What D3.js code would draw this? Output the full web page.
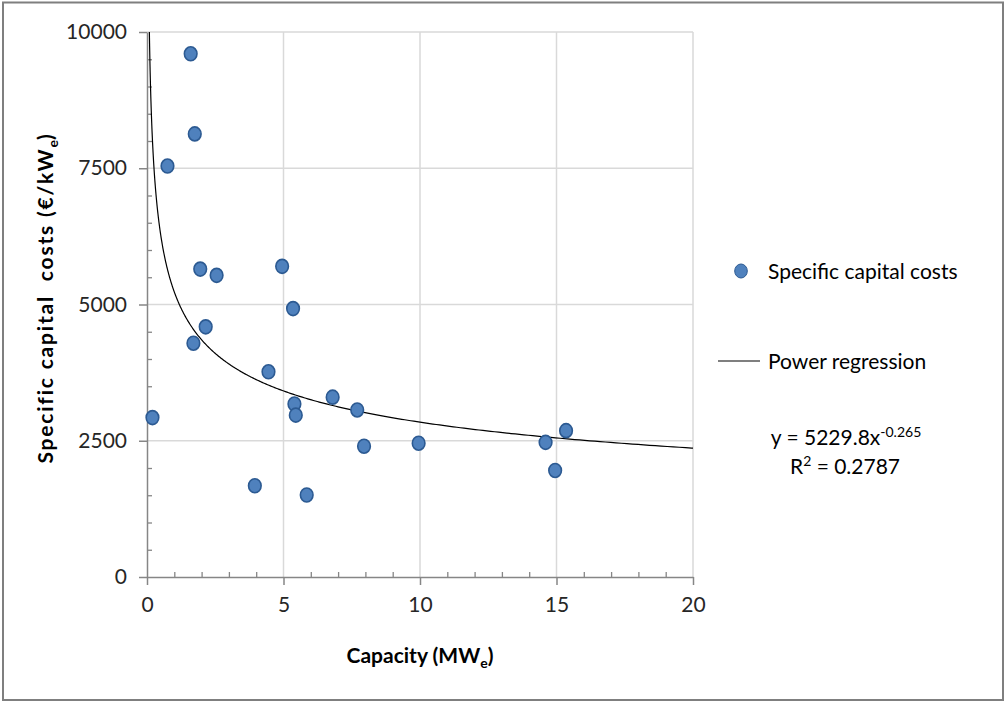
<!DOCTYPE html>
<html>
<head>
<meta charset="utf-8">
<script src="https://cdn.jsdelivr.net/npm/d3@7"></script>
<style>
  html, body { margin: 0; padding: 0; background: #fff; }
  svg { display: block; font-family: Lato, "Open Sans", sans-serif; }
</style>
</head>
<body>
<svg id="chart" width="1006" height="702"></svg>
<script>
// Plant capacity (MWe) and specific capital cost (€/kWe)
const capacity = [1.6, 1.75, 0.75, 1.95, 2.55, 4.95, 5.35, 2.15, 1.7, 4.45, 0.2,
                  5.4, 5.45, 6.8, 7.7, 7.95, 9.95, 3.95, 5.85, 14.6, 15.35, 14.95];
const cost = [9600, 8130, 7540, 5650, 5535, 5700, 4925, 4590, 4290, 3765, 2925,
              3175, 2970, 3300, 3065, 2400, 2455, 1675, 1505, 2470, 2685, 1955];

// Axis ticks
const xTicks = [0, 5, 10, 15, 20];
const yTicks = [0, 2500, 5000, 7500, 10000];

// Power regression y = a * x^b
const regA = 5229.8;
const regB = -0.265;
const rSquared = 0.2787;

const svg = d3.select("#chart");

// outer frame
svg.append("rect")
  .attr("x", 3).attr("y", 2.5).attr("width", 1000).attr("height", 697.5)
  .attr("fill", "#fff").attr("stroke", "#7f7f7f").attr("stroke-width", 2);

const x = d3.scaleLinear().domain([0, 20]).range([147, 693]);
const y = d3.scaleLinear().domain([0, 10000]).range([577, 32]);

const gridColor = "#d9d9d9";
const axisColor = "#868686";

// gridlines
svg.append("g").selectAll("line").data(xTicks.filter(d => d > 0)).join("line")
  .attr("x1", d => x(d)).attr("x2", d => x(d))
  .attr("y1", y(0)).attr("y2", y(10000))
  .attr("stroke", gridColor).attr("stroke-width", 1.5);
svg.append("g").selectAll("line").data(yTicks.filter(d => d > 0)).join("line")
  .attr("x1", x(0)).attr("x2", x(20))
  .attr("y1", d => y(d)).attr("y2", d => y(d))
  .attr("stroke", gridColor).attr("stroke-width", 1.5);

// minor ticks (inside)
const xMinor = d3.range(1, 21).filter(d => d % 5 !== 0);
const yMinor = d3.range(500, 10001, 500).filter(d => d % 2500 !== 0);
const xAxisMinor = d3.axisBottom(x).tickValues(xMinor).tickSize(-5).tickFormat("");
const yAxisMinor = d3.axisLeft(y).tickValues(yMinor).tickSize(-5).tickFormat("");

const gxm = svg.append("g").attr("transform", `translate(0,${y(0)})`).call(xAxisMinor);
const gym = svg.append("g").attr("transform", `translate(${x(0)},0)`).call(yAxisMinor);
[gxm, gym].forEach(g => {
  g.select(".domain").remove();
  g.selectAll("line").attr("stroke", axisColor).attr("stroke-width", 1.3);
});

// major axes
const xAxis = d3.axisBottom(x).tickValues(xTicks).tickSize(8).tickSizeOuter(0).tickPadding(12).tickFormat(d3.format("d"));
const yAxis = d3.axisLeft(y).tickValues(yTicks).tickSize(8).tickSizeOuter(0).tickPadding(12).tickFormat(d3.format("d"));

const gx = svg.append("g").attr("transform", `translate(0,${y(0)})`).call(xAxis);
const gy = svg.append("g").attr("transform", `translate(${x(0)},0)`).call(yAxis);
[gx, gy].forEach(g => {
  g.select(".domain").attr("stroke", axisColor).attr("stroke-width", 1.5);
  g.selectAll(".tick line").attr("stroke", axisColor).attr("stroke-width", 1.5);
  g.selectAll(".tick text").attr("fill", "#262626")
    .style("font-family", "Lato, sans-serif").style("font-size", "21px");
});
gx.selectAll(".tick text").attr("dy", "0.71em");

// regression curve
const regX = d3.range(-1.1, Math.log10(20) + 1e-9, 0.005).map(e => Math.pow(10, e))
  .filter(v => regA * Math.pow(v, regB) <= 10000);
regX.unshift(Math.pow(regA / 10000, 1 / -regB));
regX.push(20);
svg.append("path")
  .datum(regX)
  .attr("fill", "none").attr("stroke", "#000").attr("stroke-width", 1.2)
  .attr("d", d3.line().x(d => x(d)).y(d => y(regA * Math.pow(d, regB))));

// data points
const ptFill = "#4f81bd";
const ptStroke = "#2c5a92";
svg.append("g").selectAll("ellipse").data(d3.zip(capacity, cost)).join("ellipse")
  .attr("cx", d => x(d[0])).attr("cy", d => y(d[1]))
  .attr("rx", 6.3).attr("ry", 7)
  .attr("fill", ptFill).attr("stroke", ptStroke).attr("stroke-width", 1.6);

// axis titles
const xt = svg.append("text")
  .attr("x", 420).attr("y", 663).attr("text-anchor", "middle")
  .attr("fill", "#000").style("font-size", "21px").style("font-weight", "bold");
xt.append("tspan").text("Capacity (MW");
xt.append("tspan").attr("dy", 5).style("font-size", "14px").text("e");
xt.append("tspan").attr("dy", -5).text(")");

const yt = svg.append("text")
  .attr("transform", "translate(53,298) rotate(-90)").attr("text-anchor", "middle")
  .attr("fill", "#000").style("font-size", "21px").style("font-weight", "bold")
  .style("letter-spacing", "1.8px").style("white-space", "pre");
yt.append("tspan").text("Specific capital  costs (€/kW");
yt.append("tspan").attr("dy", 5).style("font-size", "14px").style("letter-spacing", "0px").text("e");
yt.append("tspan").attr("dy", -5).text(")");

// legend
const lg = svg.append("g").style("font-size", "21px").attr("fill", "#000");
lg.append("ellipse").attr("cx", 741).attr("cy", 271).attr("rx", 6.3).attr("ry", 7)
  .attr("fill", ptFill).attr("stroke", ptStroke).attr("stroke-width", 1);
lg.append("text").attr("x", 768).attr("y", 279).text("Specific capital costs");
lg.append("line").attr("x1", 718).attr("x2", 760).attr("y1", 361).attr("y2", 361)
  .attr("stroke", "#000").attr("stroke-width", 1.2);
lg.append("text").attr("x", 768).attr("y", 369).text("Power regression");

const eq = lg.append("text").attr("x", 846).attr("y", 445).attr("text-anchor", "middle");
eq.append("tspan").text(`y = ${regA}x`);
eq.append("tspan").attr("dy", -8).style("font-size", "14px").text(`${regB}`);
const r2 = lg.append("text").attr("x", 845).attr("y", 474).attr("text-anchor", "middle");
r2.append("tspan").text("R");
r2.append("tspan").attr("dy", -8).style("font-size", "14px").text("2");
r2.append("tspan").attr("dy", 8).text(` = ${rSquared}`);
</script>
</body>
</html>
